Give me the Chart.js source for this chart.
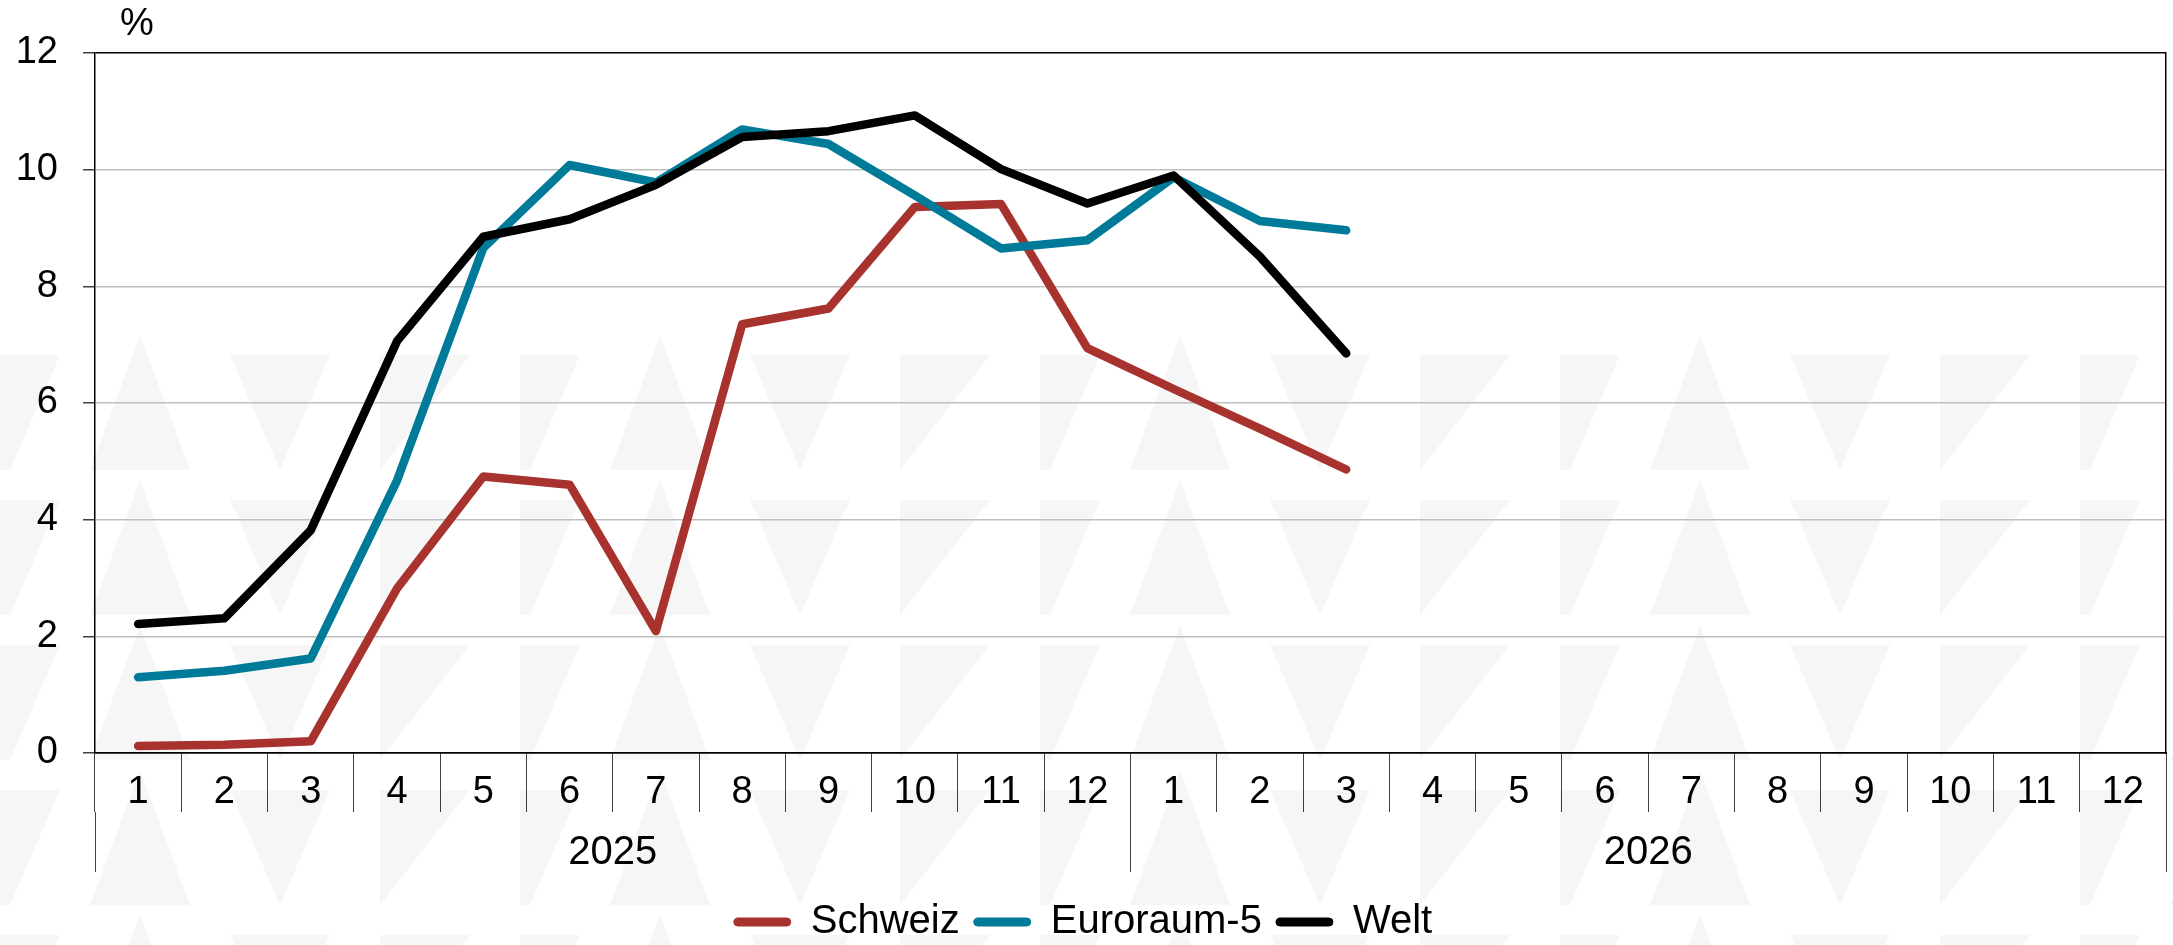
<!DOCTYPE html>
<html>
<head>
<meta charset="utf-8">
<script src="https://cdn.jsdelivr.net/npm/chart.js@4.4.1/dist/chart.umd.min.js"></script>
<style>
html, body { margin: 0; padding: 0; background: #fff; }
body { width: 2173px; height: 945px; position: relative; overflow: hidden; }
#muster {
    position: absolute; left: 0; top: 330px; width: 2173px; height: 615px; z-index: 0;
    background-image: url("data:image/svg+xml,%3Csvg xmlns='http://www.w3.org/2000/svg' width='520' height='145'%3E%3Cg fill='%23f6f6f6'%3E%3Cpolygon points='0,140 0,25 60,25 10,140'/%3E%3Cpolygon points='90,140 140,5 190,140'/%3E%3Cpolygon points='230,25 330,25 280,140'/%3E%3Cpolygon points='380,140 380,25 470,25'/%3E%3C/g%3E%3C/svg%3E");
}
#chartTeuerung { position: absolute; left: 0; top: 0; z-index: 1; }
</style>
</head>
<body>
<div id="muster"></div>
<canvas id="chartTeuerung" width="2173" height="952"></canvas>
<script>

// Monate (zwei Jahre) und Jahre für die zweite Achse
var monate = ["1", "2", "3", "4", "5", "6", "7", "8", "9", "10", "11", "12",
              "1", "2", "3", "4", "5", "6", "7", "8", "9", "10", "11", "12"];
var jahre = ["2025", "2026"];
var yWerte = [0, 2, 4, 6, 8, 10, 12];

// Werte in %
var schweiz = [0.12, 0.14, 0.20, 2.82, 4.74, 4.60, 2.09, 7.35, 7.62, 9.36, 9.41, 6.94, 6.24, 5.56, 4.86];
var euroraum5 = [1.30, 1.41, 1.62, 4.67, 8.66, 10.08, 9.78, 10.69, 10.44, 9.56, 8.65, 8.79, 9.87, 9.12, 8.96];
var welt = [2.21, 2.31, 3.82, 7.06, 8.85, 9.15, 9.74, 10.56, 10.66, 10.93, 10.01, 9.42, 9.90, 8.51, 6.85];

var farben = {
    schweiz: "#a8322d",
    euro: "#007a99",
    welt: "#000000"
};

Chart.defaults.font.family = '"Liberation Sans", Arial, sans-serif';
Chart.defaults.color = "#000";

// "%" oben links über der y-Achse
var prozentPlugin = {
    id: "prozent",
    afterDraw: function (chart) {
        var ctx = chart.ctx;
        ctx.save();
        ctx.font = '38px "Liberation Sans", Arial, sans-serif';
        ctx.fillStyle = "#000";
        ctx.textAlign = "center";
        ctx.textBaseline = "middle";
        ctx.fillText("%", chart.chartArea.left + 42, chart.chartArea.top - 28);
        ctx.restore();
    }
};

function linie(label, daten, farbe, reihenfolge) {
    return {
        label: label,
        data: daten,
        borderColor: farbe,
        backgroundColor: farbe,
        borderWidth: 8.5,
        pointRadius: 0,
        pointHoverRadius: 0,
        tension: 0,
        fill: false,
        borderCapStyle: "round",
        borderJoinStyle: "round",
        order: reihenfolge
    };
}

var config = {
    type: "line",
    data: {
        labels: monate,
        datasets: [
            linie("Schweiz", schweiz, farben.schweiz, 3),
            linie("Euroraum-5", euroraum5, farben.euro, 2),
            linie("Welt", welt, farben.welt, 1)
        ]
    },
    options: {
        responsive: false,
        animation: false,
        devicePixelRatio: 1,
        layout: {
            padding: { top: 53, right: 7, left: 0, bottom: 0 }
        },
        plugins: {
            tooltip: { enabled: false },
            legend: {
                position: "bottom",
                labels: {
                    boxWidth: 57,
                    boxHeight: 8,
                    useBorderRadius: true,
                    borderRadius: 4,
                    padding: 14,
                    color: "#000",
                    font: { size: 40 },
                    sort: function (a, b) { return a.datasetIndex - b.datasetIndex; },
                    generateLabels: function (chart) {
                        var items = Chart.defaults.plugins.legend.labels.generateLabels(chart);
                        items.forEach(function (it) {
                            it.lineWidth = 1;
                            it.strokeStyle = it.fillStyle;
                        });
                        return items;
                    }
                }
            }
        },
        scales: {
            x: {
                type: "category",
                offset: true,
                grid: {
                    offset: true,
                    drawOnChartArea: false,
                    tickLength: 59,
                    color: "#404040",
                    lineWidth: 1
                },
                border: { display: true, color: "#000", width: 1.5 },
                ticks: {
                    font: { size: 38 },
                    color: "#000",
                    padding: -42,
                    maxRotation: 0,
                    autoSkip: false
                },
                afterFit: function (s) { s.height = 59; }
            },
            x2: {
                type: "category",
                position: "bottom",
                labels: jahre,
                offset: true,
                weight: 1,
                grid: {
                    offset: true,
                    drawOnChartArea: false,
                    tickLength: 60,
                    color: "#404040",
                    lineWidth: 1
                },
                border: { display: false },
                ticks: {
                    font: { size: 40 },
                    color: "#000",
                    padding: -43,
                    maxRotation: 0,
                    autoSkip: false
                },
                afterFit: function (s) { s.height = 76; }
            },
            y: {
                min: 0,
                max: 12,
                afterBuildTicks: function (s) {
                    s.ticks = yWerte.map(function (v) { return { value: v }; });
                },
                grid: {
                    color: function (ctx) {
                        var v = ctx.tick ? ctx.tick.value : null;
                        return (v === 12 || v === 0) ? "#000" : "#bfbfbf";
                    },
                    tickColor: "#404040",
                    tickLength: 12,
                    lineWidth: 1.5
                },
                border: { color: "#000", width: 1.5 },
                ticks: {
                    font: { size: 38 },
                    color: "#000",
                    padding: 25
                },
                afterFit: function (s) { s.width = 95; }
            },
            y2: {
                position: "right",
                min: 0,
                max: 12,
                grid: { drawOnChartArea: false, drawTicks: false },
                ticks: { display: false },
                border: { color: "#000", width: 1.5 },
                afterFit: function (s) { s.width = 0; }
            }
        }
    },
    plugins: [prozentPlugin]
};

var myChartLine = new Chart(document.getElementById("chartTeuerung"), config);
</script>
</body>
</html>
